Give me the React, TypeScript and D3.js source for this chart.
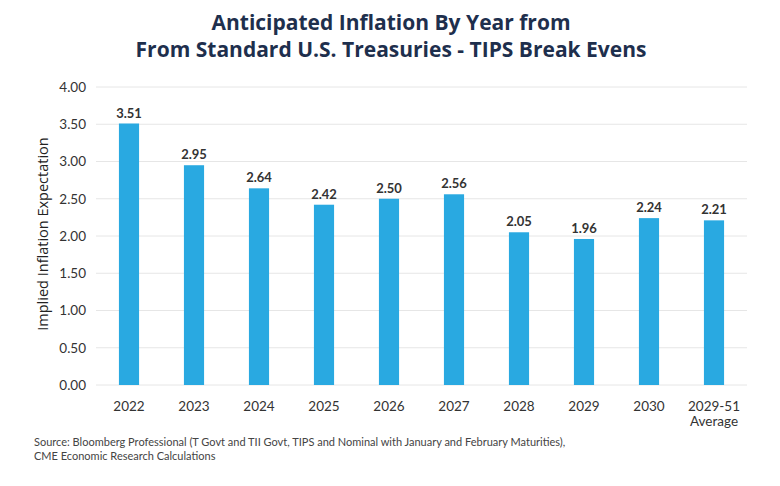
import { useEffect, useRef } from 'react'
import { select, scaleBand, scaleLinear, axisLeft } from 'd3'

const categories = ['2022', '2023', '2024', '2025', '2026', '2027', '2028', '2029', '2030', '2029-51\nAverage']
const values = [3.51, 2.95, 2.64, 2.42, 2.5, 2.56, 2.05, 1.96, 2.24, 2.21]
const yTicks = [0, 0.5, 1, 1.5, 2, 2.5, 3, 3.5, 4]
const titleLines = ['Anticipated Inflation By Year from', 'From Standard U.S. Treasuries - TIPS Break Evens']
const sourceLines = [
  'Source: Bloomberg Professional (T Govt and TII Govt, TIPS and Nominal with January and February Maturities),',
  'CME Economic Research Calculations',
]
const yLabel = 'Implied Inflation Expectation'

const W = 780
const H = 486
const FONT = 'Lato, "Open Sans", sans-serif'
const WIDE = '"Open Sans", Lato, sans-serif'

export default function App() {
  const svgRef = useRef<SVGSVGElement | null>(null)

  useEffect(() => {
    const svg = select(svgRef.current)
    svg.selectAll('*').remove()

    const x = scaleBand().domain(categories).range([96.5, 746.5]).paddingInner(0.69).paddingOuter(0.345)
    const y = scaleLinear().domain([0, 4]).range([385, 87])

    // title
    svg
      .selectAll('.title')
      .data(titleLines)
      .join('text')
      .attr('class', 'title')
      .attr('x', 391)
      .attr('y', (_, i) => 30 + i * 27)
      .attr('text-anchor', 'middle')
      .attr('font-family', WIDE)
      .attr('font-weight', 700)
      .attr('font-size', 21)
      .attr('fill', '#1e2f4d')
      .text((d) => d)

    // gridlines
    svg
      .append('g')
      .selectAll('line')
      .data(yTicks)
      .join('line')
      .attr('x1', 96)
      .attr('x2', 747)
      .attr('y1', (d) => y(d))
      .attr('y2', (d) => y(d))
      .attr('stroke', '#e6e6e6')
      .attr('stroke-width', 1)

    // y axis
    const yAxis = axisLeft(y)
      .tickValues(yTicks)
      .tickFormat((d) => (d as number).toFixed(2))
      .tickSize(0)
      .tickPadding(10)
    const gy = svg.append('g').attr('transform', 'translate(96,0)').call(yAxis as any)
    gy.select('.domain').remove()
    gy.selectAll('text').attr('font-family', FONT).attr('font-size', 13.5).attr('fill', '#333')

    svg
      .append('text')
      .attr('transform', `translate(48,${(y(0) + y(4)) / 2 - 2}) rotate(-90)`)
      .attr('text-anchor', 'middle')
      .attr('font-family', WIDE)
      .attr('font-size', 14.5)
      .attr('fill', '#222')
      .text(yLabel)

    // bars
    svg
      .append('g')
      .selectAll('rect')
      .data(values)
      .join('rect')
      .attr('x', (_, i) => x(categories[i])!)
      .attr('width', x.bandwidth())
      .attr('y', (d) => y(d))
      .attr('height', (d) => y(0) - y(d))
      .attr('fill', '#29a9e1')

    // value labels
    svg
      .append('g')
      .selectAll('text')
      .data(values)
      .join('text')
      .attr('x', (_, i) => x(categories[i])! + x.bandwidth() / 2)
      .attr('y', (d) => y(d) - 6)
      .attr('text-anchor', 'middle')
      .attr('font-family', FONT)
      .attr('font-weight', 700)
      .attr('font-size', 13)
      .attr('fill', '#333')
      .text((d) => d.toFixed(2))

    // x labels
    const xl = svg
      .append('g')
      .selectAll('text')
      .data(categories)
      .join('text')
      .attr('x', (d) => x(d)! + x.bandwidth() / 2)
      .attr('y', 411)
      .attr('text-anchor', 'middle')
      .attr('font-family', FONT)
      .attr('font-size', 13.5)
      .attr('fill', '#333')
    xl.selectAll('tspan')
      .data((d) => d.split('\n'))
      .join('tspan')
      .attr('x', function () {
        return (this as SVGTSpanElement).parentElement!.getAttribute('x')
      })
      .attr('dy', (_, i) => (i === 0 ? 0 : 15))
      .text((d) => d)

    // source
    svg
      .selectAll('.source')
      .data(sourceLines)
      .join('text')
      .attr('class', 'source')
      .attr('x', 34)
      .attr('y', (_, i) => 446 + i * 14)
      .attr('font-family', FONT)
      .attr('font-size', 11)
      .attr('fill', '#444')
      .text((d) => d)
  }, [])

  return (
    <svg
      ref={svgRef}
      width={W}
      height={H}
      style={{ position: 'absolute', left: 0, top: 0, background: '#fff' }}
    />
  )
}
